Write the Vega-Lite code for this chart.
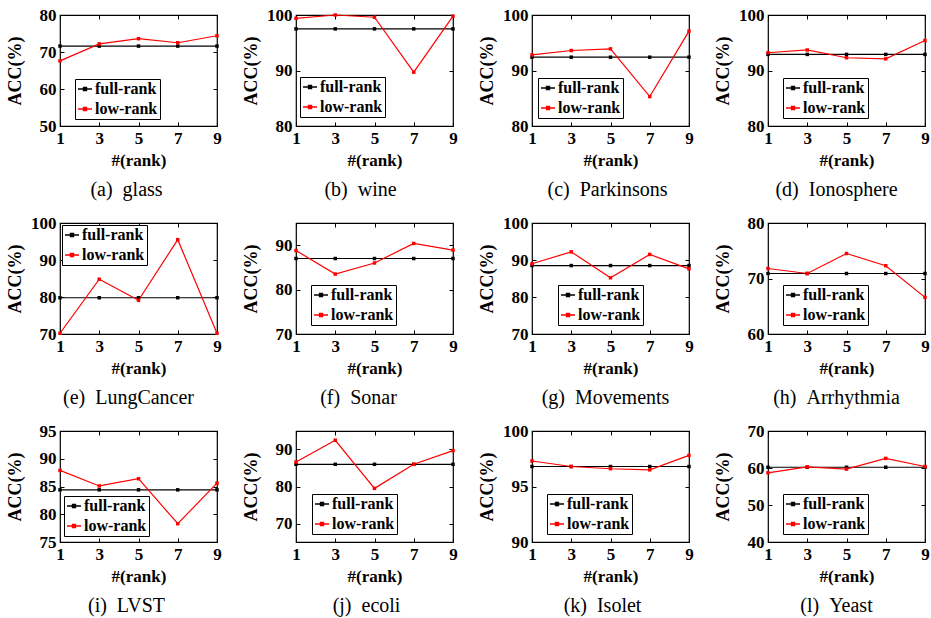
{
"$schema":"https://vega.github.io/schema/vega-lite/v6.json",
"padding":{"left":5,"top":5,"right":5,"bottom":5},
"data":{"values":[
{"p":"glass","rank":1,"method":"full-rank","acc":71.6},{"p":"glass","rank":3,"method":"full-rank","acc":71.6},{"p":"glass","rank":5,"method":"full-rank","acc":71.6},{"p":"glass","rank":7,"method":"full-rank","acc":71.6},{"p":"glass","rank":9,"method":"full-rank","acc":71.6},
{"p":"glass","rank":1,"method":"low-rank","acc":67.6},{"p":"glass","rank":3,"method":"low-rank","acc":72.2},{"p":"glass","rank":5,"method":"low-rank","acc":73.6},{"p":"glass","rank":7,"method":"low-rank","acc":72.5},{"p":"glass","rank":9,"method":"low-rank","acc":74.4},
{"p":"wine","rank":1,"method":"full-rank","acc":97.5},{"p":"wine","rank":3,"method":"full-rank","acc":97.5},{"p":"wine","rank":5,"method":"full-rank","acc":97.5},{"p":"wine","rank":7,"method":"full-rank","acc":97.5},{"p":"wine","rank":9,"method":"full-rank","acc":97.5},
{"p":"wine","rank":1,"method":"low-rank","acc":99.4},{"p":"wine","rank":3,"method":"low-rank","acc":100},{"p":"wine","rank":5,"method":"low-rank","acc":99.6},{"p":"wine","rank":7,"method":"low-rank","acc":89.7},{"p":"wine","rank":9,"method":"low-rank","acc":99.8},
{"p":"park","rank":1,"method":"full-rank","acc":92.4},{"p":"park","rank":3,"method":"full-rank","acc":92.4},{"p":"park","rank":5,"method":"full-rank","acc":92.4},{"p":"park","rank":7,"method":"full-rank","acc":92.4},{"p":"park","rank":9,"method":"full-rank","acc":92.4},
{"p":"park","rank":1,"method":"low-rank","acc":92.8},{"p":"park","rank":3,"method":"low-rank","acc":93.6},{"p":"park","rank":5,"method":"low-rank","acc":93.9},{"p":"park","rank":7,"method":"low-rank","acc":85.3},{"p":"park","rank":9,"method":"low-rank","acc":97.1},
{"p":"iono","rank":1,"method":"full-rank","acc":92.9},{"p":"iono","rank":3,"method":"full-rank","acc":92.9},{"p":"iono","rank":5,"method":"full-rank","acc":92.9},{"p":"iono","rank":7,"method":"full-rank","acc":92.9},{"p":"iono","rank":9,"method":"full-rank","acc":92.9},
{"p":"iono","rank":1,"method":"low-rank","acc":93.2},{"p":"iono","rank":3,"method":"low-rank","acc":93.7},{"p":"iono","rank":5,"method":"low-rank","acc":92.3},{"p":"iono","rank":7,"method":"low-rank","acc":92.1},{"p":"iono","rank":9,"method":"low-rank","acc":95.4},
{"p":"lung","rank":1,"method":"full-rank","acc":79.8},{"p":"lung","rank":3,"method":"full-rank","acc":79.8},{"p":"lung","rank":5,"method":"full-rank","acc":79.8},{"p":"lung","rank":7,"method":"full-rank","acc":79.8},{"p":"lung","rank":9,"method":"full-rank","acc":79.8},
{"p":"lung","rank":1,"method":"low-rank","acc":70.2},{"p":"lung","rank":3,"method":"low-rank","acc":84.8},{"p":"lung","rank":5,"method":"low-rank","acc":79.1},{"p":"lung","rank":7,"method":"low-rank","acc":95.5},{"p":"lung","rank":9,"method":"low-rank","acc":70.2},
{"p":"sonar","rank":1,"method":"full-rank","acc":87.0},{"p":"sonar","rank":3,"method":"full-rank","acc":87.0},{"p":"sonar","rank":5,"method":"full-rank","acc":87.0},{"p":"sonar","rank":7,"method":"full-rank","acc":87.0},{"p":"sonar","rank":9,"method":"full-rank","acc":87.0},
{"p":"sonar","rank":1,"method":"low-rank","acc":88.8},{"p":"sonar","rank":3,"method":"low-rank","acc":83.5},{"p":"sonar","rank":5,"method":"low-rank","acc":86.0},{"p":"sonar","rank":7,"method":"low-rank","acc":90.4},{"p":"sonar","rank":9,"method":"low-rank","acc":88.9},
{"p":"move","rank":1,"method":"full-rank","acc":88.5},{"p":"move","rank":3,"method":"full-rank","acc":88.5},{"p":"move","rank":5,"method":"full-rank","acc":88.5},{"p":"move","rank":7,"method":"full-rank","acc":88.5},{"p":"move","rank":9,"method":"full-rank","acc":88.5},
{"p":"move","rank":1,"method":"low-rank","acc":89.0},{"p":"move","rank":3,"method":"low-rank","acc":92.2},{"p":"move","rank":5,"method":"low-rank","acc":85.2},{"p":"move","rank":7,"method":"low-rank","acc":91.5},{"p":"move","rank":9,"method":"low-rank","acc":87.6},
{"p":"arr","rank":1,"method":"full-rank","acc":70.9},{"p":"arr","rank":3,"method":"full-rank","acc":70.9},{"p":"arr","rank":5,"method":"full-rank","acc":70.9},{"p":"arr","rank":7,"method":"full-rank","acc":70.9},{"p":"arr","rank":9,"method":"full-rank","acc":70.9},
{"p":"arr","rank":1,"method":"low-rank","acc":71.8},{"p":"arr","rank":3,"method":"low-rank","acc":70.9},{"p":"arr","rank":5,"method":"low-rank","acc":74.5},{"p":"arr","rank":7,"method":"low-rank","acc":72.3},{"p":"arr","rank":9,"method":"low-rank","acc":66.6},
{"p":"lvst","rank":1,"method":"full-rank","acc":84.4},{"p":"lvst","rank":3,"method":"full-rank","acc":84.4},{"p":"lvst","rank":5,"method":"full-rank","acc":84.4},{"p":"lvst","rank":7,"method":"full-rank","acc":84.4},{"p":"lvst","rank":9,"method":"full-rank","acc":84.4},
{"p":"lvst","rank":1,"method":"low-rank","acc":87.9},{"p":"lvst","rank":3,"method":"low-rank","acc":85.1},{"p":"lvst","rank":5,"method":"low-rank","acc":86.4},{"p":"lvst","rank":7,"method":"low-rank","acc":78.3},{"p":"lvst","rank":9,"method":"low-rank","acc":85.6},
{"p":"ecoli","rank":1,"method":"full-rank","acc":86.0},{"p":"ecoli","rank":3,"method":"full-rank","acc":86.0},{"p":"ecoli","rank":5,"method":"full-rank","acc":86.0},{"p":"ecoli","rank":7,"method":"full-rank","acc":86.0},{"p":"ecoli","rank":9,"method":"full-rank","acc":86.0},
{"p":"ecoli","rank":1,"method":"low-rank","acc":86.6},{"p":"ecoli","rank":3,"method":"low-rank","acc":92.5},{"p":"ecoli","rank":5,"method":"low-rank","acc":79.5},{"p":"ecoli","rank":7,"method":"low-rank","acc":86.0},{"p":"ecoli","rank":9,"method":"low-rank","acc":89.7},
{"p":"isolet","rank":1,"method":"full-rank","acc":96.8},{"p":"isolet","rank":3,"method":"full-rank","acc":96.8},{"p":"isolet","rank":5,"method":"full-rank","acc":96.8},{"p":"isolet","rank":7,"method":"full-rank","acc":96.8},{"p":"isolet","rank":9,"method":"full-rank","acc":96.8},
{"p":"isolet","rank":1,"method":"low-rank","acc":97.3},{"p":"isolet","rank":3,"method":"low-rank","acc":96.8},{"p":"isolet","rank":5,"method":"low-rank","acc":96.6},{"p":"isolet","rank":7,"method":"low-rank","acc":96.5},{"p":"isolet","rank":9,"method":"low-rank","acc":97.8},
{"p":"yeast","rank":1,"method":"full-rank","acc":60.2},{"p":"yeast","rank":3,"method":"full-rank","acc":60.2},{"p":"yeast","rank":5,"method":"full-rank","acc":60.2},{"p":"yeast","rank":7,"method":"full-rank","acc":60.2},{"p":"yeast","rank":9,"method":"full-rank","acc":60.2},
{"p":"yeast","rank":1,"method":"low-rank","acc":58.7},{"p":"yeast","rank":3,"method":"low-rank","acc":60.3},{"p":"yeast","rank":5,"method":"low-rank","acc":59.7},{"p":"yeast","rank":7,"method":"low-rank","acc":62.6},{"p":"yeast","rank":9,"method":"low-rank","acc":60.4}
]},
"columns":4,
"bounds":"flush",
"spacing":{"row":97,"column":79},
"resolve":{"scale":{"x":"independent","y":"independent","color":"independent"},"legend":{"color":"independent"}},
"concat":[
{"title":{"text":"(a)\u2002glass","dx":-12},"width":157,"height":111,"transform":[{"filter":"datum.p==='glass'"}],
"layer":[
{"mark":{"type":"line","strokeWidth":1.2,"point":{"shape":"square","filled":true,"size":12}},"encoding":{
"x":{"field":"rank","type":"quantitative","scale":{"domain":[1,9]},"axis":{"values":[1,3,5,7,9],"title":"#(rank)","titleY":26}},
"y":{"field":"acc","type":"quantitative","scale":{"domain":[50,80]},"axis":{"values":[50,60,70,80],"title":"ACC(%)","titleX":-36}},
"color":{"field":"method","type":"nominal","scale":{"domain":["full-rank","low-rank"],"range":["black","red"]},"legend":{"title":null,"legendX":15,"legendY":64}}}},
{"mark":{"type":"point","opacity":0},"encoding":{
"x":{"field":"rank","type":"quantitative","scale":{"domain":[1,9]},"axis":{"orient":"top","values":[1,3,5,7,9],"labels":false,"title":null}},
"y":{"field":"acc","type":"quantitative","scale":{"domain":[50,80]},"axis":{"orient":"right","values":[50,60,70,80],"labels":false,"title":null}}}}
],"resolve":{"scale":{"x":"independent","y":"independent"}}},
{"title":{"text":"(b)\u2002wine","dx":-14},"width":157,"height":111,"transform":[{"filter":"datum.p==='wine'"}],
"layer":[
{"mark":{"type":"line","strokeWidth":1.2,"point":{"shape":"square","filled":true,"size":12}},"encoding":{
"x":{"field":"rank","type":"quantitative","scale":{"domain":[1,9]},"axis":{"values":[1,3,5,7,9],"title":"#(rank)","titleY":26}},
"y":{"field":"acc","type":"quantitative","scale":{"domain":[80,100]},"axis":{"values":[80,90,100],"title":"ACC(%)","titleX":-36}},
"color":{"field":"method","type":"nominal","scale":{"domain":["full-rank","low-rank"],"range":["black","red"]},"legend":{"title":null,"legendX":4,"legendY":62}}}},
{"mark":{"type":"point","opacity":0},"encoding":{
"x":{"field":"rank","type":"quantitative","scale":{"domain":[1,9]},"axis":{"orient":"top","values":[1,3,5,7,9],"labels":false,"title":null}},
"y":{"field":"acc","type":"quantitative","scale":{"domain":[80,100]},"axis":{"orient":"right","values":[80,90,100],"labels":false,"title":null}}}}
],"resolve":{"scale":{"x":"independent","y":"independent"}}},
{"title":{"text":"(c)\u2002Parkinsons","dx":-3},"width":157,"height":111,"transform":[{"filter":"datum.p==='park'"}],
"layer":[
{"mark":{"type":"line","strokeWidth":1.2,"point":{"shape":"square","filled":true,"size":12}},"encoding":{
"x":{"field":"rank","type":"quantitative","scale":{"domain":[1,9]},"axis":{"values":[1,3,5,7,9],"title":"#(rank)","titleY":26}},
"y":{"field":"acc","type":"quantitative","scale":{"domain":[80,100]},"axis":{"values":[80,90,100],"title":"ACC(%)","titleX":-36}},
"color":{"field":"method","type":"nominal","scale":{"domain":["full-rank","low-rank"],"range":["black","red"]},"legend":{"title":null,"legendX":6,"legendY":63}}}},
{"mark":{"type":"point","opacity":0},"encoding":{
"x":{"field":"rank","type":"quantitative","scale":{"domain":[1,9]},"axis":{"orient":"top","values":[1,3,5,7,9],"labels":false,"title":null}},
"y":{"field":"acc","type":"quantitative","scale":{"domain":[80,100]},"axis":{"orient":"right","values":[80,90,100],"labels":false,"title":null}}}}
],"resolve":{"scale":{"x":"independent","y":"independent"}}},
{"title":{"text":"(d)\u2002Ionosphere","dx":-10},"width":157,"height":111,"transform":[{"filter":"datum.p==='iono'"}],
"layer":[
{"mark":{"type":"line","strokeWidth":1.2,"point":{"shape":"square","filled":true,"size":12}},"encoding":{
"x":{"field":"rank","type":"quantitative","scale":{"domain":[1,9]},"axis":{"values":[1,3,5,7,9],"title":"#(rank)","titleY":26}},
"y":{"field":"acc","type":"quantitative","scale":{"domain":[80,100]},"axis":{"values":[80,90,100],"title":"ACC(%)","titleX":-36}},
"color":{"field":"method","type":"nominal","scale":{"domain":["full-rank","low-rank"],"range":["black","red"]},"legend":{"title":null,"legendX":15,"legendY":63}}}},
{"mark":{"type":"point","opacity":0},"encoding":{
"x":{"field":"rank","type":"quantitative","scale":{"domain":[1,9]},"axis":{"orient":"top","values":[1,3,5,7,9],"labels":false,"title":null}},
"y":{"field":"acc","type":"quantitative","scale":{"domain":[80,100]},"axis":{"orient":"right","values":[80,90,100],"labels":false,"title":null}}}}
],"resolve":{"scale":{"x":"independent","y":"independent"}}},
{"title":{"text":"(e)\u2002LungCancer","dx":-10},"width":157,"height":111,"transform":[{"filter":"datum.p==='lung'"}],
"layer":[
{"mark":{"type":"line","strokeWidth":1.2,"point":{"shape":"square","filled":true,"size":12}},"encoding":{
"x":{"field":"rank","type":"quantitative","scale":{"domain":[1,9]},"axis":{"values":[1,3,5,7,9],"title":"#(rank)","titleY":26}},
"y":{"field":"acc","type":"quantitative","scale":{"domain":[70,100]},"axis":{"values":[70,80,90,100],"title":"ACC(%)","titleX":-36}},
"color":{"field":"method","type":"nominal","scale":{"domain":["full-rank","low-rank"],"range":["black","red"]},"legend":{"title":null,"legendX":2,"legendY":2}}}},
{"mark":{"type":"point","opacity":0},"encoding":{
"x":{"field":"rank","type":"quantitative","scale":{"domain":[1,9]},"axis":{"orient":"top","values":[1,3,5,7,9],"labels":false,"title":null}},
"y":{"field":"acc","type":"quantitative","scale":{"domain":[70,100]},"axis":{"orient":"right","values":[70,80,90,100],"labels":false,"title":null}}}}
],"resolve":{"scale":{"x":"independent","y":"independent"}}},
{"title":{"text":"(f)\u2002Sonar","dx":-16},"width":157,"height":111,"transform":[{"filter":"datum.p==='sonar'"}],
"layer":[
{"mark":{"type":"line","strokeWidth":1.2,"point":{"shape":"square","filled":true,"size":12}},"encoding":{
"x":{"field":"rank","type":"quantitative","scale":{"domain":[1,9]},"axis":{"values":[1,3,5,7,9],"title":"#(rank)","titleY":26}},
"y":{"field":"acc","type":"quantitative","scale":{"domain":[70,95]},"axis":{"values":[70,80,90],"title":"ACC(%)","titleX":-36}},
"color":{"field":"method","type":"nominal","scale":{"domain":["full-rank","low-rank"],"range":["black","red"]},"legend":{"title":null,"legendX":15,"legendY":62}}}},
{"mark":{"type":"point","opacity":0},"encoding":{
"x":{"field":"rank","type":"quantitative","scale":{"domain":[1,9]},"axis":{"orient":"top","values":[1,3,5,7,9],"labels":false,"title":null}},
"y":{"field":"acc","type":"quantitative","scale":{"domain":[70,95]},"axis":{"orient":"right","values":[70,80,90],"labels":false,"title":null}}}}
],"resolve":{"scale":{"x":"independent","y":"independent"}}},
{"title":{"text":"(g)\u2002Movements","dx":-5},"width":157,"height":111,"transform":[{"filter":"datum.p==='move'"}],
"layer":[
{"mark":{"type":"line","strokeWidth":1.2,"point":{"shape":"square","filled":true,"size":12}},"encoding":{
"x":{"field":"rank","type":"quantitative","scale":{"domain":[1,9]},"axis":{"values":[1,3,5,7,9],"title":"#(rank)","titleY":26}},
"y":{"field":"acc","type":"quantitative","scale":{"domain":[70,100]},"axis":{"values":[70,80,90,100],"title":"ACC(%)","titleX":-36}},
"color":{"field":"method","type":"nominal","scale":{"domain":["full-rank","low-rank"],"range":["black","red"]},"legend":{"title":null,"legendX":26,"legendY":62}}}},
{"mark":{"type":"point","opacity":0},"encoding":{
"x":{"field":"rank","type":"quantitative","scale":{"domain":[1,9]},"axis":{"orient":"top","values":[1,3,5,7,9],"labels":false,"title":null}},
"y":{"field":"acc","type":"quantitative","scale":{"domain":[70,100]},"axis":{"orient":"right","values":[70,80,90,100],"labels":false,"title":null}}}}
],"resolve":{"scale":{"x":"independent","y":"independent"}}},
{"title":{"text":"(h)\u2002Arrhythmia","dx":-10},"width":157,"height":111,"transform":[{"filter":"datum.p==='arr'"}],
"layer":[
{"mark":{"type":"line","strokeWidth":1.2,"point":{"shape":"square","filled":true,"size":12}},"encoding":{
"x":{"field":"rank","type":"quantitative","scale":{"domain":[1,9]},"axis":{"values":[1,3,5,7,9],"title":"#(rank)","titleY":26}},
"y":{"field":"acc","type":"quantitative","scale":{"domain":[60,80]},"axis":{"values":[60,70,80],"title":"ACC(%)","titleX":-36}},
"color":{"field":"method","type":"nominal","scale":{"domain":["full-rank","low-rank"],"range":["black","red"]},"legend":{"title":null,"legendX":15,"legendY":62}}}},
{"mark":{"type":"point","opacity":0},"encoding":{
"x":{"field":"rank","type":"quantitative","scale":{"domain":[1,9]},"axis":{"orient":"top","values":[1,3,5,7,9],"labels":false,"title":null}},
"y":{"field":"acc","type":"quantitative","scale":{"domain":[60,80]},"axis":{"orient":"right","values":[60,70,80],"labels":false,"title":null}}}}
],"resolve":{"scale":{"x":"independent","y":"independent"}}},
{"title":{"text":"(i)\u2002LVST","dx":-12},"width":157,"height":111,"transform":[{"filter":"datum.p==='lvst'"}],
"layer":[
{"mark":{"type":"line","strokeWidth":1.2,"point":{"shape":"square","filled":true,"size":12}},"encoding":{
"x":{"field":"rank","type":"quantitative","scale":{"domain":[1,9]},"axis":{"values":[1,3,5,7,9],"title":"#(rank)","titleY":26}},
"y":{"field":"acc","type":"quantitative","scale":{"domain":[75,95]},"axis":{"values":[75,80,85,90,95],"title":"ACC(%)","titleX":-36}},
"color":{"field":"method","type":"nominal","scale":{"domain":["full-rank","low-rank"],"range":["black","red"]},"legend":{"title":null,"legendX":4,"legendY":65}}}},
{"mark":{"type":"point","opacity":0},"encoding":{
"x":{"field":"rank","type":"quantitative","scale":{"domain":[1,9]},"axis":{"orient":"top","values":[1,3,5,7,9],"labels":false,"title":null}},
"y":{"field":"acc","type":"quantitative","scale":{"domain":[75,95]},"axis":{"orient":"right","values":[75,80,85,90,95],"labels":false,"title":null}}}}
],"resolve":{"scale":{"x":"independent","y":"independent"}}},
{"title":{"text":"(j)\u2002ecoli","dx":-8},"width":157,"height":111,"transform":[{"filter":"datum.p==='ecoli'"}],
"layer":[
{"mark":{"type":"line","strokeWidth":1.2,"point":{"shape":"square","filled":true,"size":12}},"encoding":{
"x":{"field":"rank","type":"quantitative","scale":{"domain":[1,9]},"axis":{"values":[1,3,5,7,9],"title":"#(rank)","titleY":26}},
"y":{"field":"acc","type":"quantitative","scale":{"domain":[65,95]},"axis":{"values":[70,80,90],"title":"ACC(%)","titleX":-36}},
"color":{"field":"method","type":"nominal","scale":{"domain":["full-rank","low-rank"],"range":["black","red"]},"legend":{"title":null,"legendX":16,"legendY":63}}}},
{"mark":{"type":"point","opacity":0},"encoding":{
"x":{"field":"rank","type":"quantitative","scale":{"domain":[1,9]},"axis":{"orient":"top","values":[1,3,5,7,9],"labels":false,"title":null}},
"y":{"field":"acc","type":"quantitative","scale":{"domain":[65,95]},"axis":{"orient":"right","values":[70,80,90],"labels":false,"title":null}}}}
],"resolve":{"scale":{"x":"independent","y":"independent"}}},
{"title":{"text":"(k)\u2002Isolet","dx":-8},"width":157,"height":111,"transform":[{"filter":"datum.p==='isolet'"}],
"layer":[
{"mark":{"type":"line","strokeWidth":1.2,"point":{"shape":"square","filled":true,"size":12}},"encoding":{
"x":{"field":"rank","type":"quantitative","scale":{"domain":[1,9]},"axis":{"values":[1,3,5,7,9],"title":"#(rank)","titleY":26}},
"y":{"field":"acc","type":"quantitative","scale":{"domain":[90,100]},"axis":{"values":[90,95,100],"title":"ACC(%)","titleX":-36}},
"color":{"field":"method","type":"nominal","scale":{"domain":["full-rank","low-rank"],"range":["black","red"]},"legend":{"title":null,"legendX":15,"legendY":63}}}},
{"mark":{"type":"point","opacity":0},"encoding":{
"x":{"field":"rank","type":"quantitative","scale":{"domain":[1,9]},"axis":{"orient":"top","values":[1,3,5,7,9],"labels":false,"title":null}},
"y":{"field":"acc","type":"quantitative","scale":{"domain":[90,100]},"axis":{"orient":"right","values":[90,95,100],"labels":false,"title":null}}}}
],"resolve":{"scale":{"x":"independent","y":"independent"}}},
{"title":{"text":"(l)\u2002Yeast","dx":-10},"width":157,"height":111,"transform":[{"filter":"datum.p==='yeast'"}],
"layer":[
{"mark":{"type":"line","strokeWidth":1.2,"point":{"shape":"square","filled":true,"size":12}},"encoding":{
"x":{"field":"rank","type":"quantitative","scale":{"domain":[1,9]},"axis":{"values":[1,3,5,7,9],"title":"#(rank)","titleY":26}},
"y":{"field":"acc","type":"quantitative","scale":{"domain":[40,70]},"axis":{"values":[40,50,60,70],"title":"ACC(%)","titleX":-36}},
"color":{"field":"method","type":"nominal","scale":{"domain":["full-rank","low-rank"],"range":["black","red"]},"legend":{"title":null,"legendX":15,"legendY":63}}}},
{"mark":{"type":"point","opacity":0},"encoding":{
"x":{"field":"rank","type":"quantitative","scale":{"domain":[1,9]},"axis":{"orient":"top","values":[1,3,5,7,9],"labels":false,"title":null}},
"y":{"field":"acc","type":"quantitative","scale":{"domain":[40,70]},"axis":{"orient":"right","values":[40,50,60,70],"labels":false,"title":null}}}}
],"resolve":{"scale":{"x":"independent","y":"independent"}}}
],
"config":{
"font":"Liberation Serif, Times New Roman, serif",
"view":{"stroke":"black","strokeWidth":1.2},
"axis":{"domain":false,"grid":false,"tickSize":-4,"tickColor":"black","tickWidth":1,"labelPadding":8,"labelFont":"Liberation Serif, Times New Roman, serif","labelFontWeight":"bold","labelFontSize":17,"labelColor":"black","labelFlush":false,"labelOverlap":false,"titleFont":"Liberation Serif, Times New Roman, serif","titleFontWeight":"bold","titleFontSize":17,"titleColor":"black"},
"axisLeft":{"titleFontSize":18},
"legend":{"orient":"none","strokeColor":"black","fillColor":"white","padding":2,"labelFont":"Liberation Serif, Times New Roman, serif","labelFontWeight":"bold","labelFontSize":16,"labelColor":"black","symbolType":"M-1,0H1M-0.22,-0.22H0.22V0.22H-0.22Z","symbolSize":196,"symbolStrokeWidth":1.3,"rowPadding":4,"labelOffset":2},
"title":{"orient":"bottom","font":"Liberation Serif, Times New Roman, serif","fontSize":20,"fontWeight":"normal","color":"black","frame":"group","anchor":"middle","offset":12}
}
}
